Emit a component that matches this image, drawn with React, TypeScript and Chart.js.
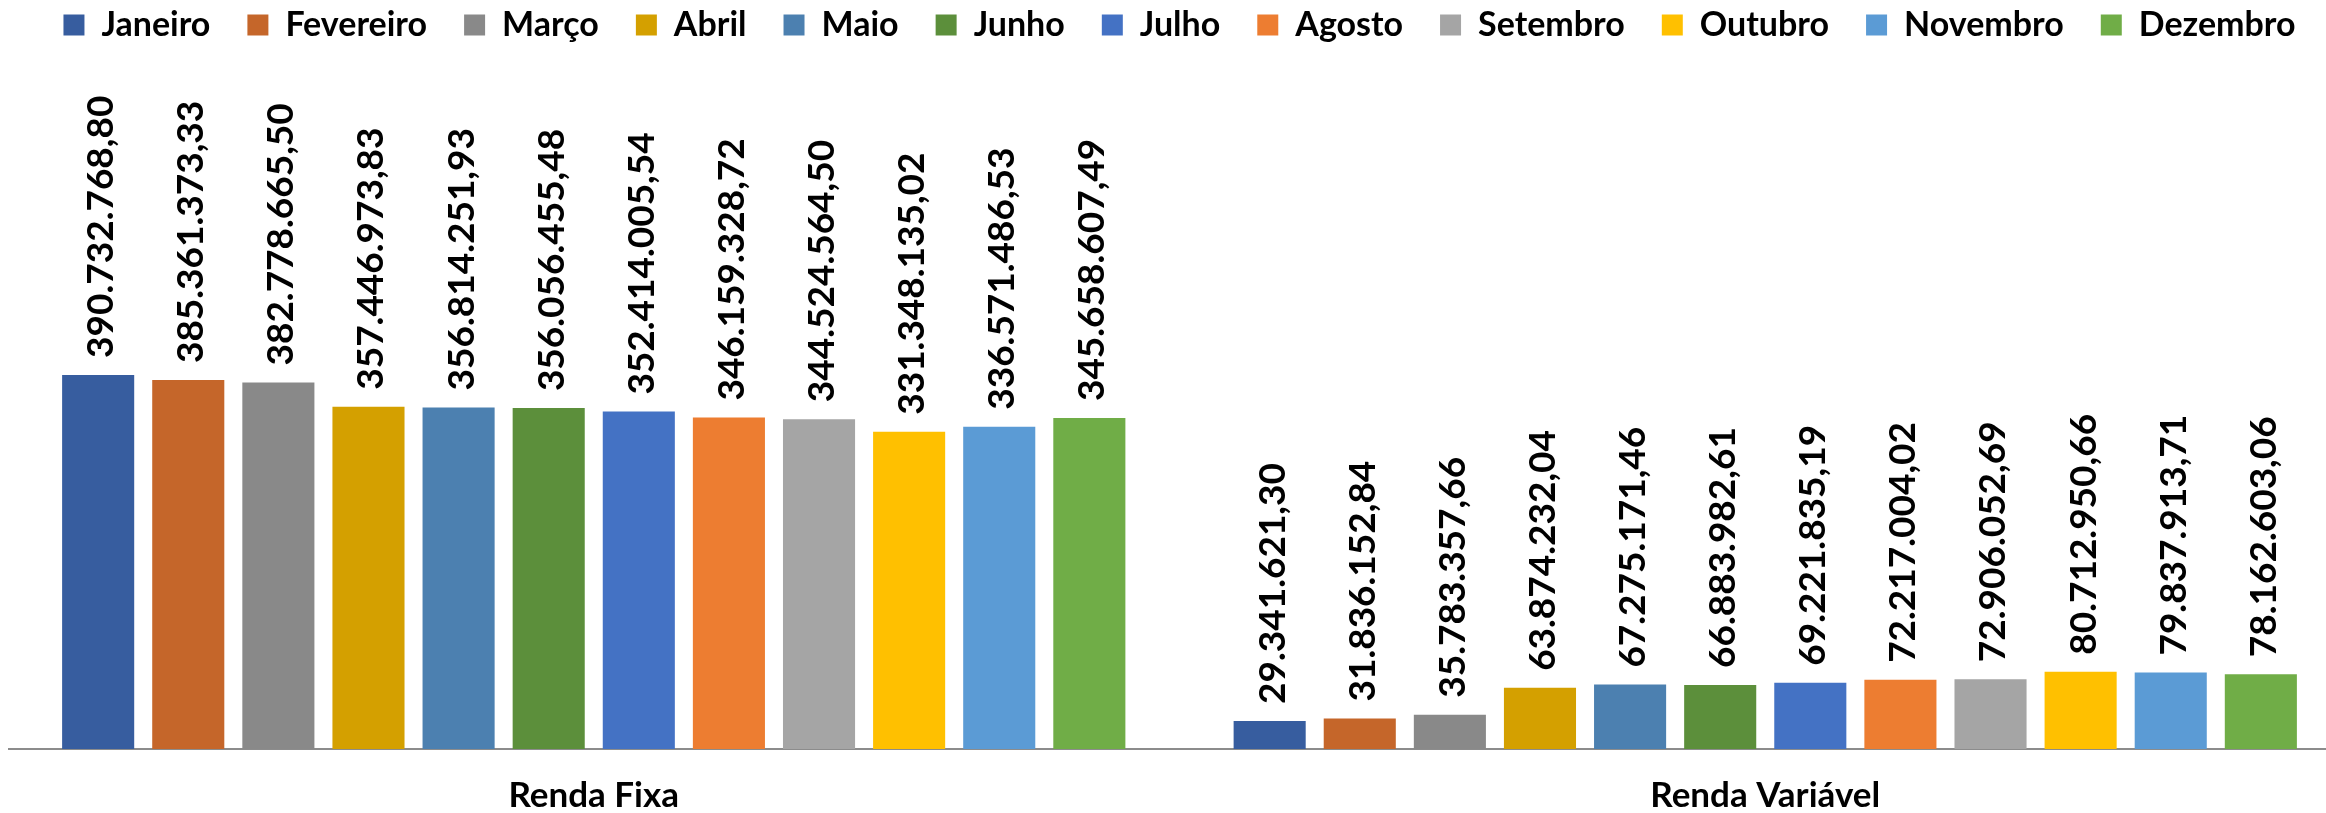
import React, { useEffect, useRef } from "react";
import { Chart, registerables } from "chart.js";

Chart.register(...registerables);

const categories = ["Renda Fixa", "Renda Variável"];
const months = [
  "Janeiro", "Fevereiro", "Março", "Abril", "Maio", "Junho",
  "Julho", "Agosto", "Setembro", "Outubro", "Novembro", "Dezembro",
];
const rendaFixa = [
  390732768.8, 385361373.33, 382778665.5, 357446973.83, 356814251.93, 356056455.48,
  352414005.54, 346159328.72, 344524564.5, 331348135.02, 336571486.53, 345658607.49,
];
const rendaVariavel = [
  29341621.3, 31836152.84, 35783357.66, 63874232.04, 67275171.46, 66883982.61,
  69221835.19, 72217004.02, 72906052.69, 80712950.66, 79837913.71, 78162603.06,
];
const monthColors = [
  "#375D9F", "#C5662A", "#898989", "#D4A000", "#4C80B0", "#5C8F3B",
  "#4472C4", "#ED7D31", "#A5A5A5", "#FFC000", "#5B9BD5", "#70AD47",
];

const FONT = "Lato, 'Open Sans', sans-serif";

function fmt(v: number): string {
  const [i, d] = v.toFixed(2).split(".");
  return i.replace(/\B(?=(\d{3})+(?!\d))/g, ".") + "," + d;
}

const valueLabels = {
  id: "valueLabels",
  afterDatasetsDraw(chart: any) {
    const ctx = chart.ctx;
    ctx.save();
    ctx.font = `bold 37px ${FONT}`;
    ctx.fillStyle = "#000";
    ctx.textAlign = "left";
    ctx.textBaseline = "middle";
    chart.data.datasets.forEach((ds: any, di: number) => {
      const meta = chart.getDatasetMeta(di);
      meta.data.forEach((bar: any, i: number) => {
        const v = ds.data[i];
        ctx.save();
        ctx.translate(bar.x + 3, bar.y - 17);
        ctx.rotate(-Math.PI / 2);
        ctx.fillText(fmt(v), 0, 0);
        ctx.restore();
      });
    });
    ctx.restore();
  },
};

export default function App() {
  const ref = useRef<HTMLCanvasElement>(null);
  useEffect(() => {
    if (!ref.current) return;
    const datasets = months.map((m, k) => ({
      label: m,
      data: [rendaFixa[k], rendaVariavel[k]],
      backgroundColor: monthColors[k],
      borderWidth: 0,
      categoryPercentage: 0.923,
      barPercentage: 0.8,
    }));
    const chart = new Chart(ref.current, {
      type: "bar",
      data: { labels: categories, datasets },
      plugins: [valueLabels],
      options: {
        animation: false,
        responsive: true,
        maintainAspectRatio: false,
        layout: { padding: 0 },
        plugins: {
          legend: {
            position: "top",
            labels: {
              boxWidth: 21,
              boxHeight: 21,
              padding: 37,
              color: "#000",
              font: { family: FONT, size: 34, weight: "bold" },
            },
          },
          tooltip: { enabled: false },
        },
        scales: {
          x: {
            grid: { display: false, drawTicks: false },
            border: { display: true, color: "#8C8C8C", width: 2 },
            ticks: {
              color: "#000",
              padding: 26,
              maxRotation: 0,
              font: { family: FONT, size: 35, weight: "bold" },
            },
          },
          y: {
            display: false,
            min: 0,
            max: 728000000,
          },
        },
      },
    });
    return () => chart.destroy();
  }, []);
  return (
    <div style={{ position: "fixed", left: 0, top: 0, width: "100vw", height: "100vh", overflow: "hidden", background: "#fff" }}>
      <div style={{ position: "absolute", left: 8, top: -29, width: 2343, height: 872 }}>
        <canvas ref={ref} />
      </div>
    </div>
  );
}
